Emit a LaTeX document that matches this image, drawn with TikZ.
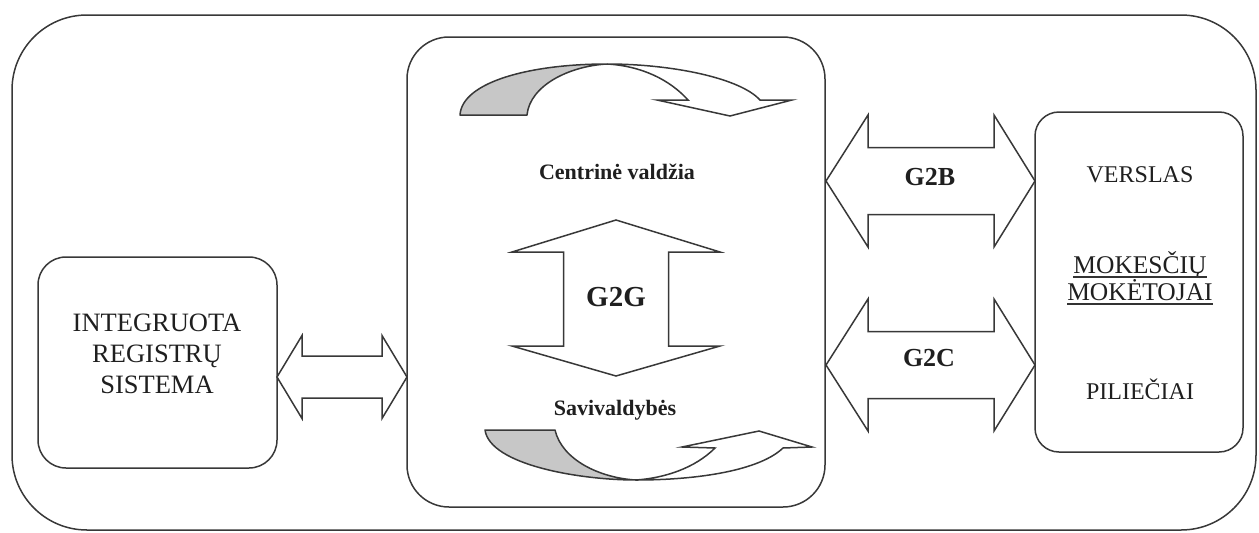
\documentclass[tikz,border=0pt]{standalone}
\usepackage{fontspec}
\setmainfont{Liberation Serif}
\begin{document}
\begin{tikzpicture}[x=1pt,y=-1pt,
  line/.style={draw=black!78, line width=1.5pt},
  panel/.style={line, rectangle, inner sep=0pt},
  lbl/.style={text=black!88, inner sep=0pt, font=\fontsize{24}{30}\selectfont, align=center},
  boldlbl/.style={text=black!88, inner sep=0pt, font=\bfseries\fontsize{22}{26}\selectfont},
  gtag/.style={text=black!88, inner sep=0pt, font=\bfseries\fontsize{26}{30}\selectfont},
  blockarrow/.style={line, fill=white, line join=miter},
  ribbon/.style={line, fill=black!22, line join=round},
  ribbonhead/.style={line, fill=white, line join=miter},
  uline/.style={draw=black!80, line width=1.1pt}
]
\useasboundingbox (0,0) rectangle (1259,533);

% frames
\node[panel, rounded corners=75pt, minimum width=1244pt, minimum height=515pt] (outer) at (634,272.5) {};
\node[panel, rounded corners=42pt, minimum width=418pt, minimum height=470pt] (gov) at (616,272) {};
\node[panel, rounded corners=28pt, minimum width=239pt, minimum height=211pt] (reg) at (157.5,362.5) {};
\node[panel, rounded corners=24pt, minimum width=208pt, minimum height=340pt] (users) at (1139,282) {};

% registry <-> government
\draw[blockarrow] (277,377) -- (302,335.5) -- (302,356) -- (382,356) -- (382,335.5)
  -- (407,377) -- (382,418.5) -- (382,398) -- (302,398) -- (302,418.5) -- cycle;

% G2B and G2C
\foreach \yc in {181, 365}{
  \draw[blockarrow] (826,\yc) -- (868,\yc-66) -- (868,\yc-33.5) -- (994,\yc-33.5) -- (994,\yc-66)
    -- (1035,\yc) -- (994,\yc+66) -- (994,\yc+33.5) -- (868,\yc+33.5) -- (868,\yc+66) -- cycle;
}

% G2G vertical double arrow
\draw[blockarrow] (616,220) -- (720,252) -- (668.5,252) -- (668.5,346) -- (720,346)
  -- (616,376) -- (512,346) -- (563.5,346) -- (563.5,252) -- (512,252) -- cycle;

% upper ribbon arrow
\draw[ribbon] (460,115) .. controls (462,82) and (530,64) .. (607,64)
  .. controls (570,66) and (530,85) .. (527,115) -- cycle;
\draw[ribbonhead] (607,64) .. controls (672,64) and (740,78) .. (760,100) -- (792,100) -- (730,116)
  -- (657,100) -- (688,100) .. controls (670,80) and (642,66) .. (607,64) -- cycle;

% lower ribbon arrow
\draw[ribbon] (485,430) -- (555,430) .. controls (562,460) and (600,478) .. (636,480)
  .. controls (580,480) and (490,465) .. (485,430) -- cycle;
\draw[ribbonhead] (636,480) .. controls (700,480) and (760,470) .. (783,448) -- (812,447) -- (759,431)
  -- (682,447) -- (715,448) .. controls (695,468) and (665,478) .. (636,480) -- cycle;

% labels
\node[boldlbl] (central) at (617,172) {Centrinė valdžia};
\node[boldlbl] (local) at (615,410) {Savivaldybės};
\node[gtag, font=\bfseries\fontsize{29}{32}\selectfont] (g2g) at (616,297) {G2G};
\node[gtag] (g2bt) at (930,177) {G2B};
\node[gtag] (g2ct) at (929,358) {G2C};

\node[lbl, font=\fontsize{26.5}{31}\selectfont] (regtext) at (157,354) {INTEGRUOTA\\REGISTRŲ\\SISTEMA};
\node[lbl] (verslas) at (1140,175) {VERSLAS};
\node[lbl, font=\fontsize{25.5}{27}\selectfont, anchor=base] (tax1) at (1140,273) {MOKESČIŲ};
\node[lbl, font=\fontsize{25.5}{27}\selectfont, anchor=base] (tax2) at (1140,300) {MOKĖTOJAI};
\draw[uline] ([yshift=-4pt]tax1.base west) -- ([yshift=-4pt]tax1.base east);
\draw[uline] ([yshift=-4pt]tax2.base west) -- ([yshift=-4pt]tax2.base east);
\node[lbl] (citizens) at (1140,389) {PILIEČIAI};
\end{tikzpicture}
\end{document}
